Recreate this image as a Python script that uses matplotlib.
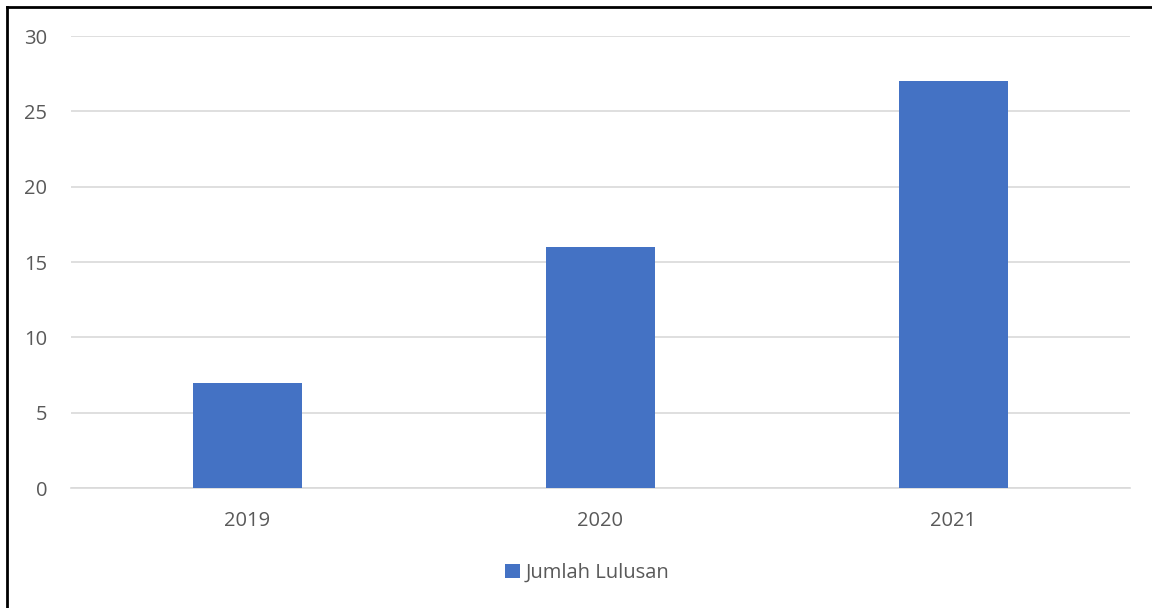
import matplotlib
matplotlib.use("Agg")
import matplotlib.pyplot as plt
from matplotlib.lines import Line2D

categories = ["2019", "2020", "2021"]
values = [7, 16, 27]
series_name = "Jumlah Lulusan"
yticks = [0, 5, 10, 15, 20, 25, 30]

plt.rcParams['font.family'] = ['Open Sans', 'DejaVu Sans']
grey = "#595959"
blue = "#4472C4"

fig = plt.figure(figsize=(11.52, 6.08), dpi=100)
ax = fig.add_axes([71/1152, 1-488/608, (1130-71)/1152, (488-36)/608])
x = range(len(categories))
ax.bar(x, values, width=0.31, color=blue, label=series_name, zorder=3)
ax.set_xlim(-0.5, 2.5)
ax.set_ylim(0, 30)
ax.set_yticks(yticks)
ax.set_xticks(list(x))
ax.set_xticklabels(categories)
ax.grid(axis='y', color="#d9d9d9", linewidth=1.2, zorder=0)
for s in ["top", "right", "left"]:
    ax.spines[s].set_visible(False)
ax.spines["bottom"].set_color("#d9d9d9")
ax.spines["bottom"].set_linewidth(1.2)
ax.tick_params(axis='both', length=0, labelsize=14.5, labelcolor=grey)
ax.tick_params(axis='y', pad=17)
ax.tick_params(axis='x', pad=16.5)

leg = fig.legend(loc='center', bbox_to_anchor=(587/1152, 1-573/608), frameon=False,
                 fontsize=14.5, handlelength=0.75, handleheight=0.75, handletextpad=0.3)
for t in leg.get_texts():
    t.set_color(grey)

# outer border lines (left and top)
fig.add_artist(Line2D([7/1152, 7/1152], [0, 1-7/608], color='black', linewidth=2, transform=fig.transFigure))
fig.add_artist(Line2D([7/1152, 1], [1-7/608, 1-7/608], color='black', linewidth=2, transform=fig.transFigure))

fig.savefig("out.png", dpi=100)
